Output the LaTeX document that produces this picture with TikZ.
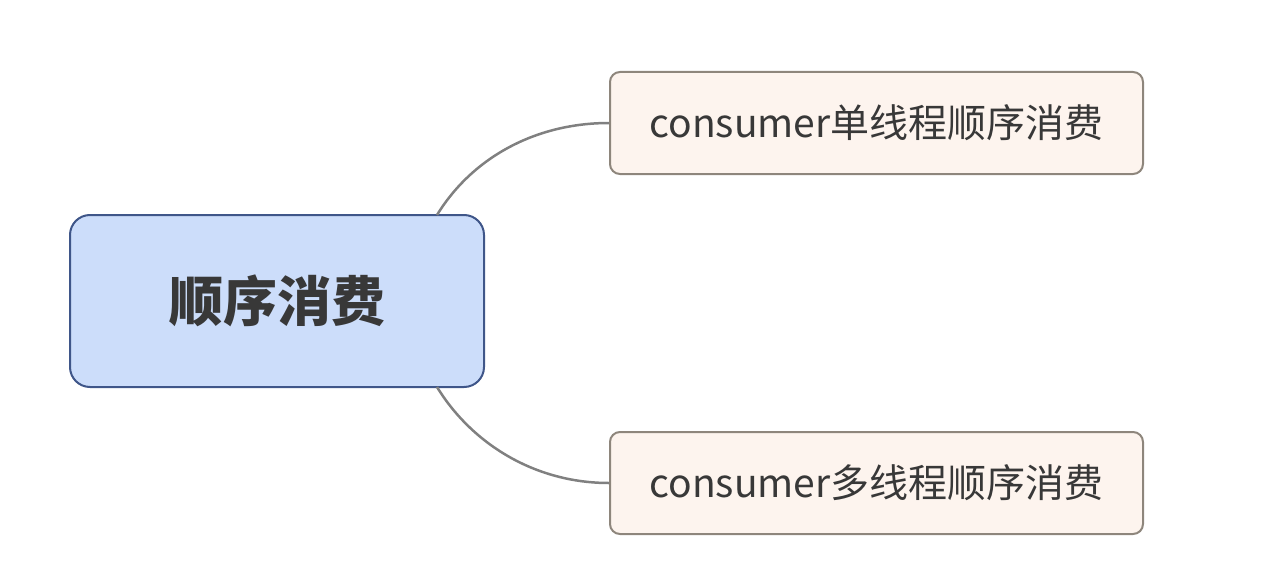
\documentclass[tikz,border=0pt]{standalone}
\usepackage{fontspec}
\setmainfont{Noto Sans CJK SC}
\definecolor{rootfill}{HTML}{CCDDFA}
\definecolor{rootdraw}{HTML}{3F5689}
\definecolor{childfill}{HTML}{FDF4EE}
\definecolor{childdraw}{HTML}{8E867C}
\definecolor{txt}{HTML}{383838}
\definecolor{linkc}{HTML}{808080}
\begin{document}
\begin{tikzpicture}[x=1pt,y=-1pt,
  rootbox/.style={draw=rootdraw,fill=rootfill,line width=2pt,rounded corners=20pt,
    minimum width=414pt,minimum height=172pt,inner sep=0pt,text=txt,
    font=\fontsize{54}{62}\selectfont\bfseries},
  childbox/.style={draw=childdraw,fill=childfill,line width=2pt,rounded corners=10pt,
    minimum width=533pt,minimum height=102pt,inner sep=0pt,text=txt,
    font=\fontsize{39}{46}\selectfont},
  link/.style={draw=linkc,line width=2.5pt}]
\useasboundingbox (0,0) rectangle (1280,578);
\node[rootbox] (root) at (277,301) {顺序消费};
\node[childbox] (c1) at (876.5,123) {consumer单线程顺序消费};
\node[childbox] (c2) at (876.5,483) {consumer多线程顺序消费};
\coordinate (r1) at (437,215);
\coordinate (r2) at (437,387);
\draw[link] (r1) .. controls (472,158) and (535,123) .. (c1.west);
\draw[link] (r2) .. controls (472,444) and (535,483) .. (c2.west);
\end{tikzpicture}
\end{document}
